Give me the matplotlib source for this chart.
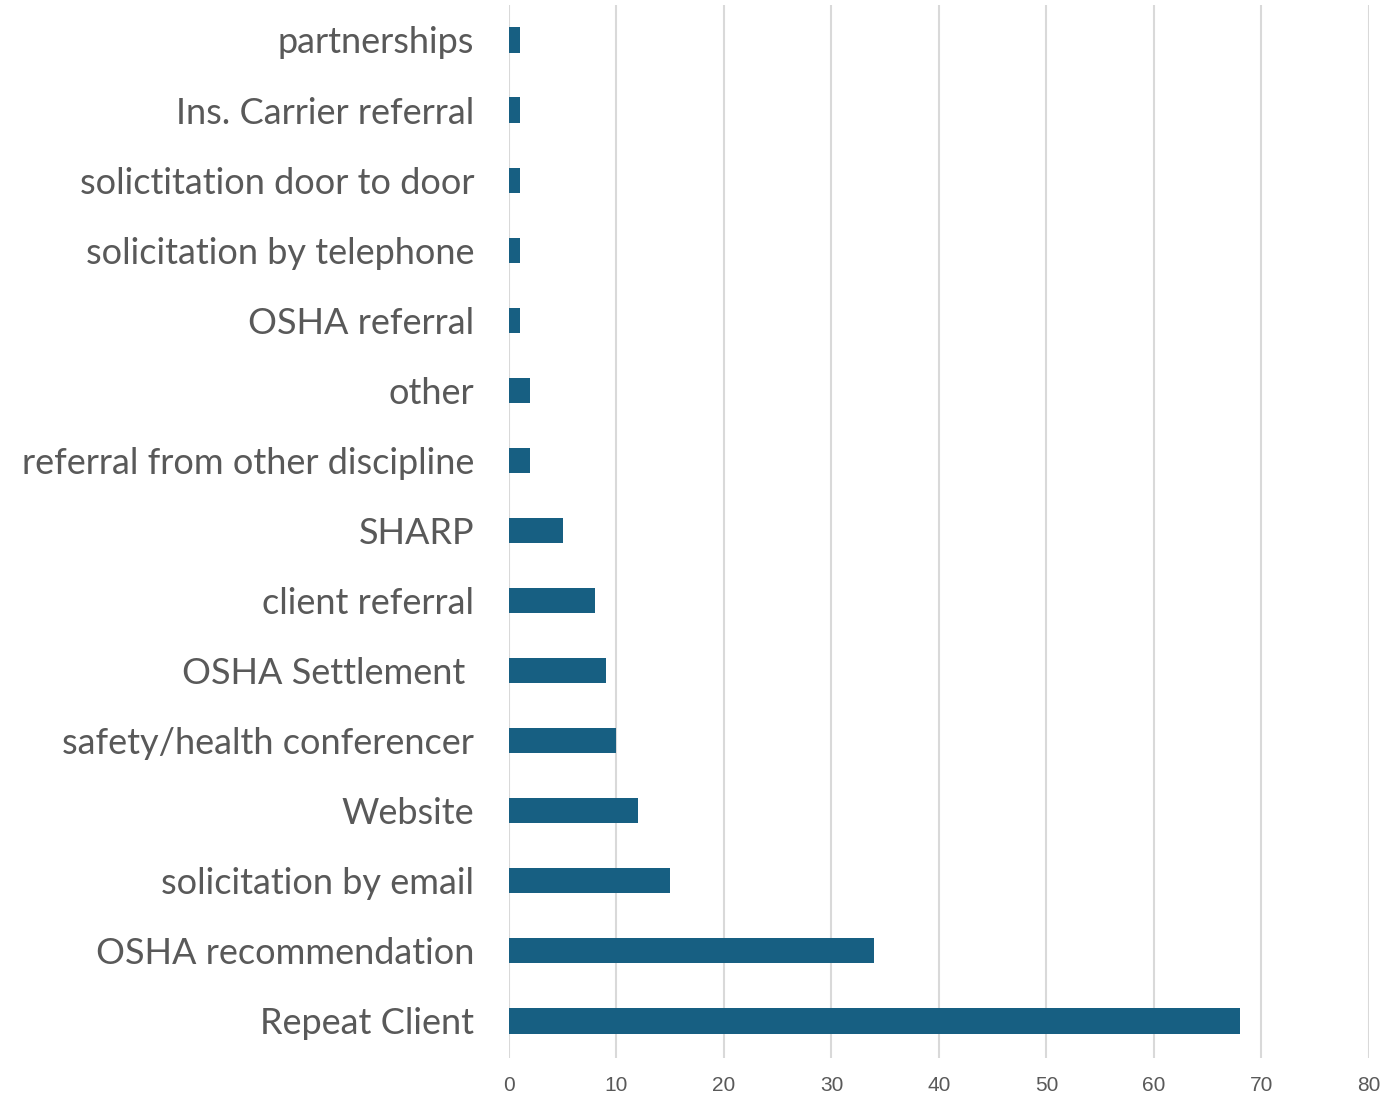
import matplotlib
matplotlib.use("Agg")
import matplotlib.pyplot as plt
from matplotlib import font_manager

# categories listed bottom to top, as drawn
categories = [
    "Repeat Client",
    "OSHA recommendation",
    "solicitation by email",
    "Website",
    "safety/health conferencer",
    "OSHA Settlement ",
    "client referral",
    "SHARP",
    "referral from other discipline",
    "other",
    "OSHA referral",
    "solicitation by telephone",
    "solictitation door to door",
    "Ins. Carrier referral",
    "partnerships",
]
counts = [68, 34, 15, 12, 10, 9, 8, 5, 2, 2, 1, 1, 1, 1, 1]
xticks = [0, 10, 20, 30, 40, 50, 60, 70, 80]

names = {f.name for f in font_manager.fontManager.ttflist}
label_font = "Lato" if "Lato" in names else "DejaVu Sans"
tick_font = "Liberation Sans Narrow" if "Liberation Sans Narrow" in names else "Liberation Sans"

fig = plt.figure(figsize=(13.88, 11.01), dpi=100)
ax = fig.add_axes([0.3667, 0.039, 0.6196, 0.9565])

ax.barh(range(len(categories)), counts, height=0.36, color="#175f82", zorder=3)

ax.set_xlim(0, 80)
ax.set_ylim(-0.53, len(categories) - 0.5)
ax.set_xticks(xticks)
ax.set_xticklabels([str(t) for t in xticks], fontsize=15, color="#595959", family=tick_font)
ax.set_yticks(range(len(categories)))
ax.set_yticklabels(categories, fontsize=26, color="#595959", family=label_font)
ax.tick_params(axis="x", length=0, pad=13)
ax.tick_params(axis="y", length=0, pad=25)

ax.grid(axis="x", color="#d9d9d9", linewidth=1.5, zorder=0)
for s in ax.spines.values():
    s.set_visible(False)

fig.savefig("out.png", dpi=100)
